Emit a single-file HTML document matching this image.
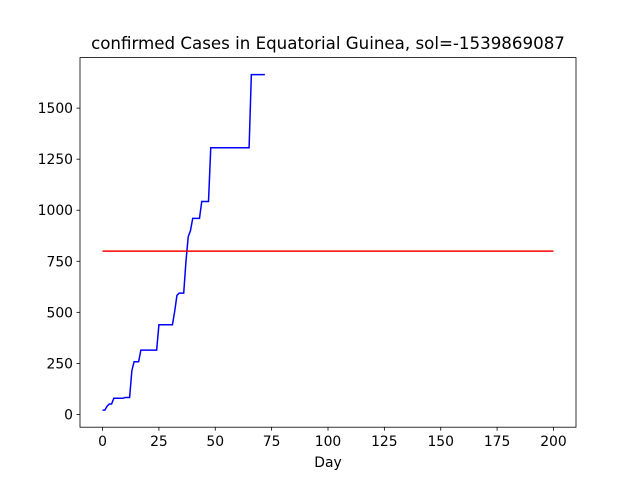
<!DOCTYPE html>
<html><head><meta charset="utf-8"><style>body{margin:0;background:#fff}svg{display:block;font-family:"DejaVu Sans","Liberation Sans",sans-serif}</style></head>
<body>
<svg id="c" width="640" height="480">
<rect width="640" height="480" fill="#fff"/>
<text x="328" y="49" font-size="16.67" text-anchor="middle">confirmed Cases in Equatorial Guinea, sol=-1539869087</text>
<g id="plot"></g>
<rect x="80" y="57.6" width="496" height="369.6" fill="none" stroke="#000" stroke-width="0.8"/>
<text x="328" y="467" font-size="13.9" text-anchor="middle">Day</text>
</svg>
<script>
const xTicks=[0,25,50,75,100,125,150,175,200];
const yTicks=[0,250,500,750,1000,1250,1500];
const caseValues=[21,21,40,51,51,79,79,79,79,79,83,83,83,214,258,258,258,315,315,315,315,315,315,315,315,439,439,439,439,439,439,439,505,583,594,594,594,750,870,900,960,960,960,960,1043,1043,1043,1043,1306,1306,1306,1306,1306,1306,1306,1306,1306,1306,1306,1306,1306,1306,1306,1306,1306,1306,1664,1664,1664,1664,1664,1664,1664];
const thresholdValue=800;
const thresholdRange=[0,200];
const NS='http://www.w3.org/2000/svg';
const g=document.getElementById('plot');
const X=d=>80+(d+10)*496/220;
const Y=v=>427.2-(v+62.5)*369.6/1810;
function mk(t,a){const e=document.createElementNS(NS,t);for(const k in a)e.setAttribute(k,a[k]);g.appendChild(e);return e;}
xTicks.forEach(t=>{
  const l=mk('line',{x1:X(t),x2:X(t),y1:427.2,y2:430.7,stroke:'#000','stroke-width':0.8});
  
  
  const s=mk('text',{x:X(t),y:446,'font-size':13.9,'text-anchor':'middle'});s.textContent=t;
  
  
});
yTicks.forEach(t=>{
  const l=mk('line',{x1:76.5,x2:80,y1:Y(t),y2:Y(t),stroke:'#000','stroke-width':0.8});
  
  
  const s=mk('text',{x:73,y:Y(t)+5,'font-size':13.9,'text-anchor':'end'});s.textContent=t;
  
  
});
const p=mk('polyline',{points:caseValues.map((v,i)=>X(i)+','+Y(v)).join(' '),fill:'none',stroke:'#0000ff','stroke-width':1.5});


const r=mk('line',{x1:X(thresholdRange[0]),x2:X(thresholdRange[1]),y1:Y(thresholdValue),y2:Y(thresholdValue),stroke:'#ff0000','stroke-width':1.5});


</script>
</body></html>
